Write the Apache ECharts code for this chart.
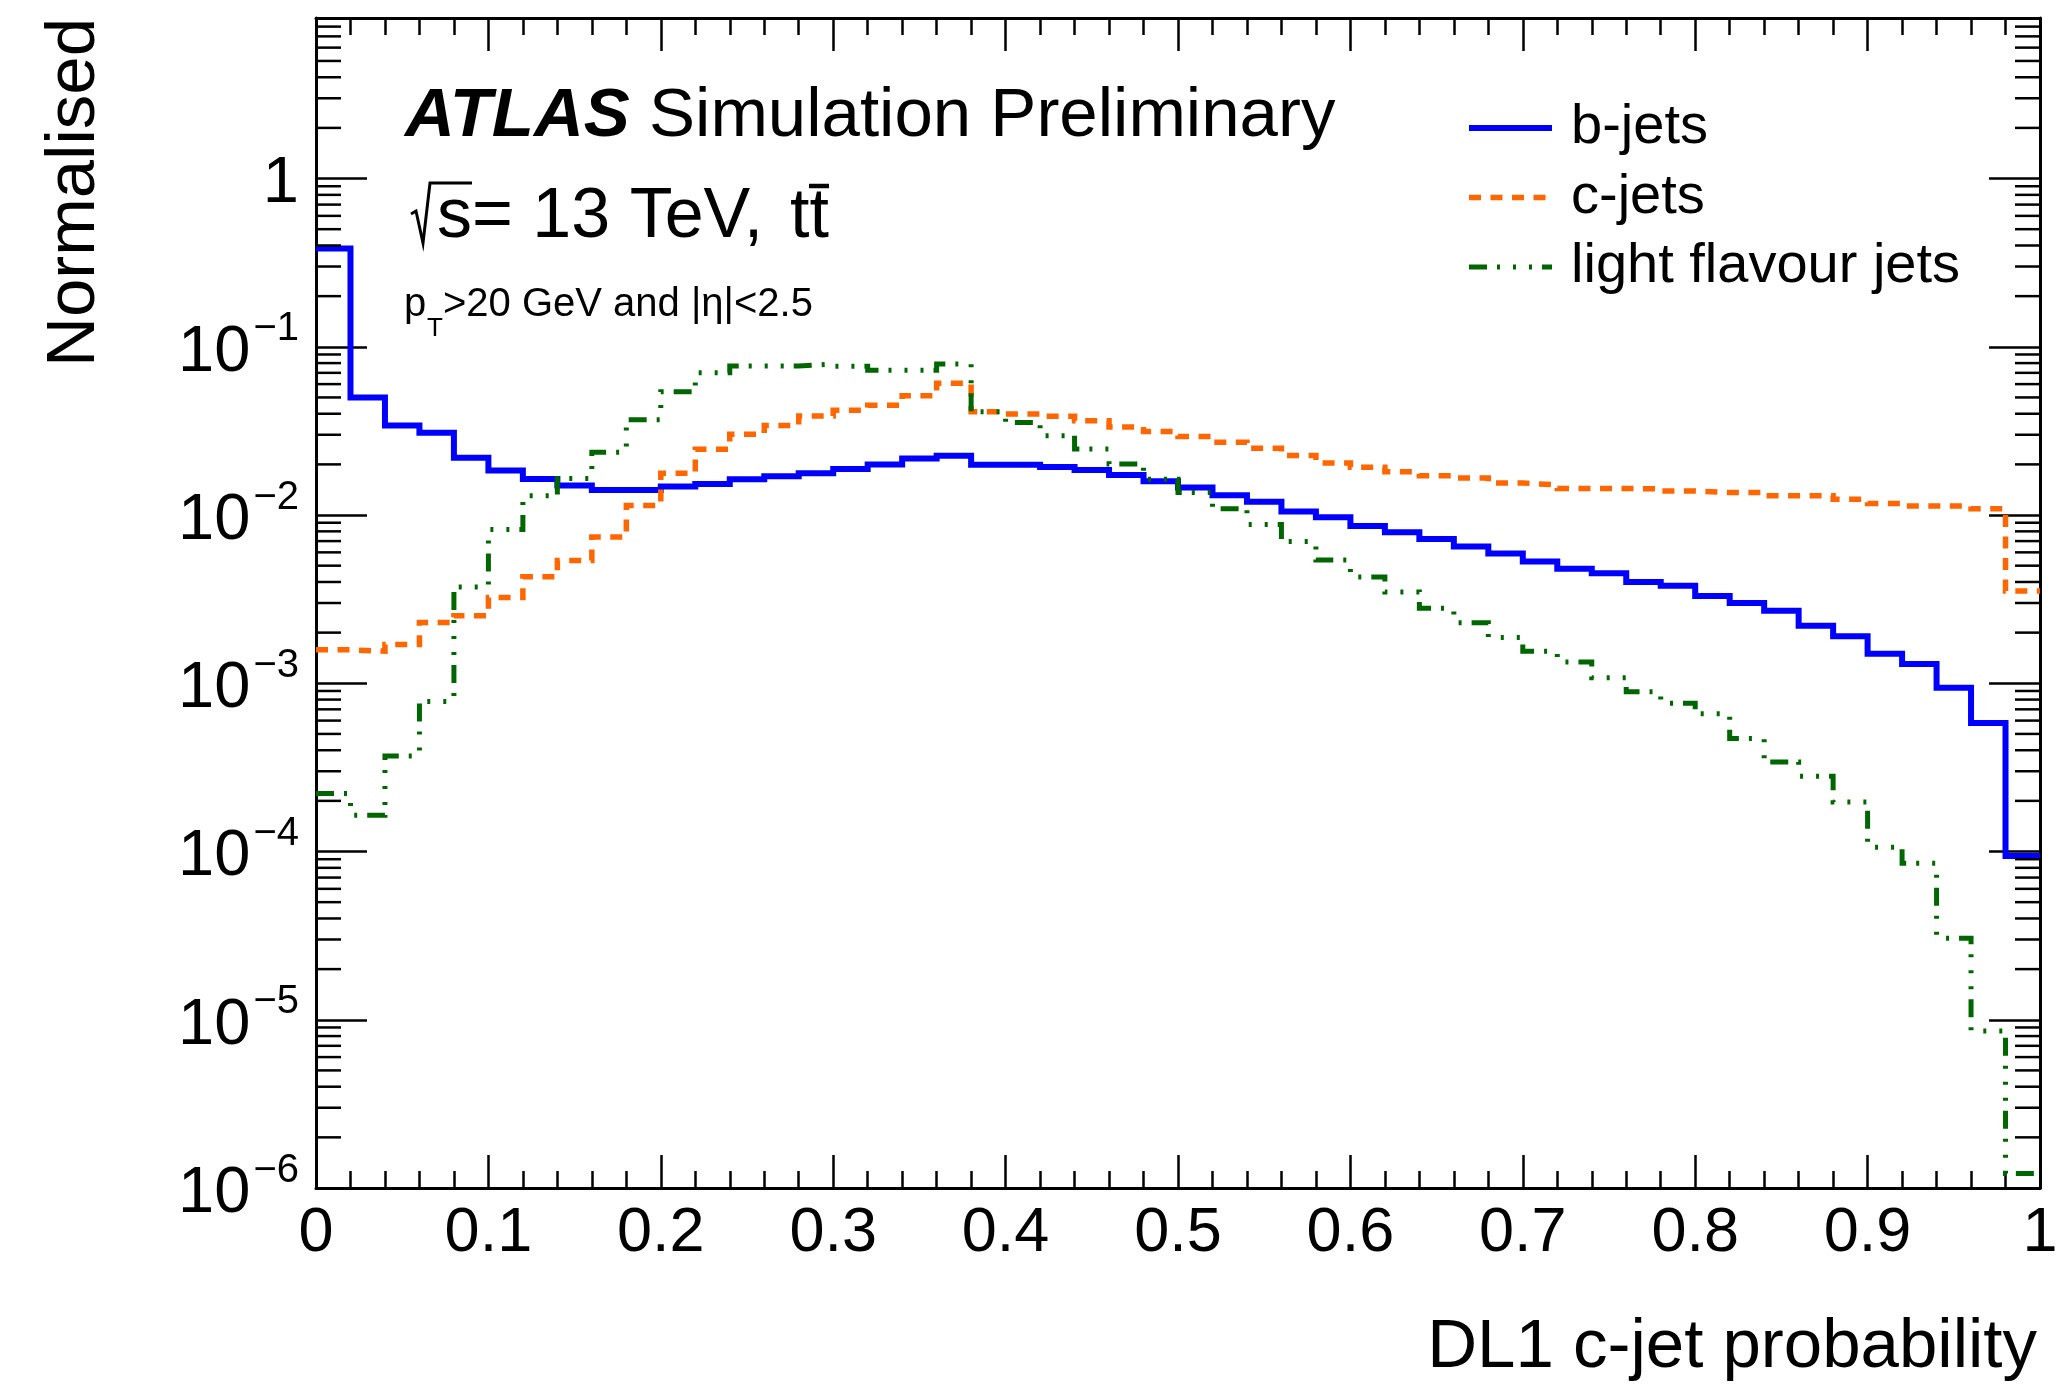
<!DOCTYPE html>
<html>
<head>
<meta charset="utf-8">
<script src="https://cdn.jsdelivr.net/npm/echarts@6/dist/echarts.min.js"></script>
<style>
html,body{margin:0;padding:0;background:#fff;}
#chart{width:2065px;height:1389px;}
</style>
</head>
<body>
<div id="chart"></div>
<script>
// ---- data (50 bins of width 0.02 on [0,1]) ----
var binLow = [0.00,0.02,0.04,0.06,0.08,0.10,0.12,0.14,0.16,0.18,
              0.20,0.22,0.24,0.26,0.28,0.30,0.32,0.34,0.36,0.38,
              0.40,0.42,0.44,0.46,0.48,0.50,0.52,0.54,0.56,0.58,
              0.60,0.62,0.64,0.66,0.68,0.70,0.72,0.74,0.76,0.78,
              0.80,0.82,0.84,0.86,0.88,0.90,0.92,0.94,0.96,0.98];
var xHigh = 1.0;

var bJets = [0.384,0.050,0.034,0.0308,0.0219,0.0184,0.0164,0.0150,0.0141,0.0141,
             0.0148,0.0153,0.0163,0.0170,0.0177,0.0188,0.0200,0.0217,0.0225,0.0199,
             0.0199,0.0193,0.0185,0.0173,0.0159,0.0146,0.0131,0.0120,0.0105,0.0097,
             0.0086,0.0079,0.0072,0.0065,0.0059,0.0053,0.0048,0.0045,0.0040,0.0038,
             0.0033,0.0030,0.0027,0.0022,0.0019,0.0015,0.0013,0.00094,0.00058,0.000094];

var cJets = [0.00158,0.00155,0.0017,0.0023,0.00252,0.00324,0.0043,0.00537,0.0074,0.0114,
             0.0177,0.0246,0.0302,0.0340,0.0388,0.0420,0.0449,0.0512,0.0608,0.0411,
             0.0398,0.0386,0.0363,0.0334,0.0314,0.0293,0.0271,0.0249,0.0226,0.0204,
             0.0192,0.0181,0.0171,0.0166,0.0155,0.0151,0.0144,0.0144,0.0143,0.0139,
             0.0136,0.0136,0.0130,0.0130,0.0124,0.0117,0.0113,0.0113,0.0109,0.00353];

var lightJets = [0.000221,0.000164,0.00037,0.00078,0.00374,0.0082,0.0130,0.0165,0.0236,0.0368,
                 0.054,0.070,0.077,0.077,0.079,0.0766,0.0726,0.0726,0.079,0.0411,
                 0.0355,0.0296,0.0247,0.0201,0.0163,0.0136,0.0109,0.00877,0.00695,0.0054,
                 0.00428,0.00349,0.00279,0.00229,0.00187,0.00155,0.00134,0.00108,0.00089,0.00076,
                 0.00066,0.00047,0.00034,0.00028,0.000197,0.000106,0.0000853,0.0000305,0.00000857,0.00000122];

var seriesNames = ['b-jets','c-jets','light flavour jets'];
var xTickLabels = ['0','0.1','0.2','0.3','0.4','0.5','0.6','0.7','0.8','0.9','1'];
var yDecadeExponents = [-6,-5,-4,-3,-2,-1,0];
var yMinorTicks = [2e-6,3e-6,4e-6,5e-6,6e-6,7e-6,8e-6,9e-6,
                   2e-5,3e-5,4e-5,5e-5,6e-5,7e-5,8e-5,9e-5,
                   2e-4,3e-4,4e-4,5e-4,6e-4,7e-4,8e-4,9e-4,
                   2e-3,3e-3,4e-3,5e-3,6e-3,7e-3,8e-3,9e-3,
                   2e-2,3e-2,4e-2,5e-2,6e-2,7e-2,8e-2,9e-2,
                   0.2,0.3,0.4,0.5,0.6,0.7,0.8,0.9,
                   2,3,4,5,6,7,8];

// ---- build ----
var FONT = '"Liberation Sans", Arial, Helvetica, sans-serif';
function stepData(vals){
  var d = [];
  for (var i = 0; i < binLow.length; i++) d.push([binLow[i], vals[i]]);
  d.push([xHigh, vals[vals.length-1]]);
  return d;
}
function xLabel(v){
  var idx = Math.round(v*10);
  return (Math.abs(v*10 - idx) < 1e-6 && xTickLabels[idx] !== undefined) ? xTickLabels[idx] : '';
}
function yLabel(v){
  var l = Math.log(v)/Math.LN10;
  var e = Math.round(l);
  if (Math.abs(l - e) > 1e-6 || yDecadeExponents.indexOf(e) < 0) return '';
  if (e === 0) return '{b|1}';
  return '{b|10}{s|\u2212' + (-e) + '}';
}

var black = '#000';
var xAxisCommon = {
  type: 'value', min: 0, max: 1, interval: 0.1,
  axisLine: {show: true, onZero: false, lineStyle: {color: black, width: 3}},
  axisTick: {show: true, inside: true, length: 33, lineStyle: {color: black, width: 2.5}},
  minorTick: {show: true, splitNumber: 5, length: 17, lineStyle: {color: black, width: 2.5}},
  splitLine: {show: false}, minorSplitLine: {show: false}
};
var yAxisCommon = {
  type: 'log', logBase: 10, min: 1e-6, max: 9,
  axisLine: {show: true, onZero: false, lineStyle: {color: black, width: 3}},
  axisTick: {show: true, inside: true, length: 51, lineStyle: {color: black, width: 2.5}},
  splitLine: {show: false}, minorTick: {show: false}, minorSplitLine: {show: false}
};

var option = {
  animation: false,
  backgroundColor: '#fff',
  grid: {left: 316, top: 18, width: 1724, height: 1170, containLabel: false},
  xAxis: [
    Object.assign({}, xAxisCommon, {
      position: 'bottom',
      axisLabel: {show: true, margin: 14, color: black, fontSize: 63, fontFamily: FONT, formatter: xLabel}
    }),
    Object.assign({}, xAxisCommon, {position: 'top', axisLabel: {show: false}})
  ],
  yAxis: [
    Object.assign({}, yAxisCommon, {
      position: 'left',
      axisLabel: {
        show: true, margin: 17, color: black, formatter: yLabel, fontFamily: FONT,
        showMaxLabel: false, padding: [0, 0, 10, 0],
        rich: {
          b: {fontSize: 65, lineHeight: 65, padding: [22,0,0,0], fontFamily: FONT, color: black},
          s: {fontSize: 40, lineHeight: 40, verticalAlign: 'top', padding: [0,0,0,3], fontFamily: FONT, color: black}
        }
      }
    }),
    Object.assign({}, yAxisCommon, {position: 'right', axisLabel: {show: false}})
  ],
  legend: {
    data: seriesNames,
    orient: 'vertical',
    left: 1461, top: 95,
    itemWidth: 83, itemHeight: 20, itemGap: 13.5,
    itemStyle: {opacity: 0},
    lineStyle: {width: 'inherit'},
    textStyle: {fontSize: 56, lineHeight: 56, fontFamily: FONT, color: black, padding: [0,0,0,14]},
    selectedMode: false
  },
  series: [
    {
      name: seriesNames[0], type: 'line', step: 'end', data: stepData(bJets),
      xAxisIndex: 0, yAxisIndex: 0, symbol: 'none', showSymbol: false,
      lineStyle: {color: '#0000ff', width: 6, type: 'solid', join: 'miter', cap: 'butt'},
      itemStyle: {color: '#0000ff'}, z: 3
    },
    {
      name: seriesNames[1], type: 'line', step: 'end', data: stepData(cJets),
      xAxisIndex: 0, yAxisIndex: 0, symbol: 'none', showSymbol: false,
      lineStyle: {color: '#ff6600', width: 5.5, type: [12, 9.5], join: 'miter', cap: 'butt'},
      itemStyle: {color: '#ff6600'}, z: 3
    },
    {
      name: seriesNames[2], type: 'line', step: 'end', data: stepData(lightJets),
      xAxisIndex: 0, yAxisIndex: 0, symbol: 'none', showSymbol: false,
      lineStyle: {color: '#006600', width: 5, type: [18, 10, 3, 13, 3, 13, 3, 10], join: 'miter', cap: 'butt'},
      itemStyle: {color: '#006600'}, z: 3
    },
    {
      name: 'minorTicks', type: 'custom', xAxisIndex: 0, yAxisIndex: 0, silent: true, z: 5,
      data: yMinorTicks.map(function(v){ return [0, v]; }),
      renderItem: function(params, api){
        var v = api.value(1);
        var pL = api.coord([0, v]);
        var pR = api.coord([1, v]);
        return {type: 'group', children: [
          {type: 'line', shape: {x1: pL[0], y1: pL[1], x2: pL[0] + 25, y2: pL[1]}, style: {stroke: black, lineWidth: 2.5}},
          {type: 'line', shape: {x1: pR[0] - 25, y1: pR[1], x2: pR[0], y2: pR[1]}, style: {stroke: black, lineWidth: 2.5}}
        ]};
      }
    }
  ],
  graphic: [
    {type: 'text', x: 405, y: 117, style: {
      text: '{a|ATLAS} {b|Simulation Preliminary}', fontSize: 69, fontFamily: FONT,
      verticalAlign: 'middle', align: 'left', fill: black,
      rich: {a: {fontSize: 69, fontWeight: 'bold', fontStyle: 'italic', fontFamily: FONT, fill: black},
             b: {fontSize: 69, fontFamily: FONT, fill: black}}
    }},
    {type: 'polyline', shape: {points: [[411, 214], [416, 211], [423, 243], [430, 183], [472, 183]]},
     style: {stroke: black, lineWidth: 3, fill: null, lineJoin: 'miter'}},
    {type: 'text', x: 437, y: 218, style: {
      text: 's= 13 TeV,', fontSize: 70, fontFamily: FONT, verticalAlign: 'middle', align: 'left', fill: black
    }},
    {type: 'text', x: 790, y: 218, style: {
      text: 'tt', fontSize: 70, fontFamily: FONT, verticalAlign: 'middle', align: 'left', fill: black
    }},
    {type: 'line', shape: {x1: 809, y1: 186, x2: 829, y2: 186}, style: {stroke: black, lineWidth: 4.5}},
    {type: 'text', x: 404, y: 305, style: {text: 'p', fontSize: 40, fontFamily: FONT, verticalAlign: 'middle', align: 'left', fill: black}},
    {type: 'text', x: 427, y: 329, style: {text: 'T', fontSize: 26, fontFamily: FONT, verticalAlign: 'middle', align: 'left', fill: black}},
    {type: 'text', x: 443, y: 305, style: {text: '>20 GeV and |\u03B7|<2.5', fontSize: 40, fontFamily: FONT, verticalAlign: 'middle', align: 'left', fill: black}},
    {type: 'text', x: 75, y: 18, rotation: Math.PI/2, style: {
      text: 'Normalised', fontSize: 69, fontFamily: FONT, verticalAlign: 'middle', align: 'right', fill: black
    }},
    {type: 'text', x: 2037, y: 1348, style: {
      text: 'DL1 c-jet probability', fontSize: 69, fontFamily: FONT, verticalAlign: 'middle', align: 'right', fill: black
    }}
  ]
};

var chart = echarts.init(document.getElementById('chart'), null, {renderer: 'canvas'});
chart.setOption(option);
</script>
</body>
</html>
